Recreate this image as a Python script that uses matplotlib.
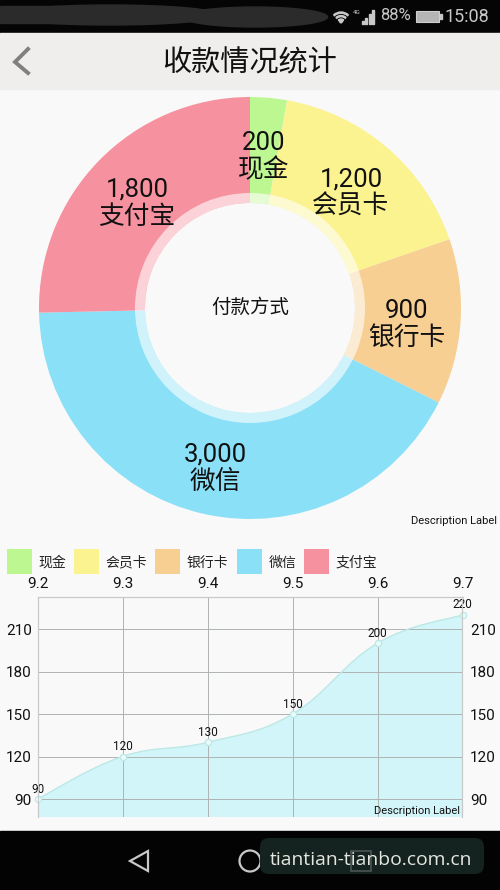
import matplotlib

matplotlib.use("Agg")
import matplotlib.pyplot as plt
from matplotlib.patches import Circle, PathPatch, Polygon, Rectangle, FancyBboxPatch, Wedge, Ellipse
from matplotlib.path import Path

plt.rcParams["font.family"] = ["Roboto", "Noto Sans CJK SC", "DejaVu Sans"]

# pie data
PAY_NAMES = ["现金", "会员卡", "银行卡", "微信", "支付宝"]
PAY_VALUES = [200, 1200, 900, 3000, 1800]
PAY_COLORS = ["#bdf792", "#fbf38f", "#f8cf92", "#8ae0f7", "#f6919f"]
CENTER_TEXT = "付款方式"

# line data
DATES = ["9.2", "9.3", "9.4", "9.5", "9.6", "9.7"]
AMOUNTS = [90, 120, 130, 150, 200, 220]
Y_TICKS = [90, 120, 150, 180, 210]

W, H = 500, 890
BG = "#f9f9f9"
TEXT = "#111111"


def px_axes(fig, x0, y0, x1, y1, **kw):
    """axes placed with pixel coords, y counted from the top"""
    return fig.add_axes([x0 / W, 1 - y1 / H, (x1 - x0) / W, (y1 - y0) / H], **kw)


def draw_chrome(ov):
    # status bar and navigation bar
    ov.add_patch(Rectangle((0, 0), 500, 33, color="#050505"))
    ov.add_patch(Rectangle((0, 33), 500, 56, color="#efeeec"))
    ov.add_patch(Rectangle((0, 831), 500, 59, color="#030303"))
    # scribbled out part of the status bar
    ov.add_patch(Ellipse((110, 15), 220, 20, color="#2b2b2b"))
    ov.add_patch(Ellipse((255, 17), 145, 20, color="#2b2b2b"))
    ov.add_patch(Rectangle((0, 6), 60, 17, color="#2b2b2b"))

    # wifi icon
    for r in (11, 7.5, 4):
        ov.add_patch(Wedge((341, 23), r, 228, 312, width=1.2, color="#c8c8c8"))
    ov.add_patch(Circle((341, 21.5), 1.3, color="#c8c8c8"))
    ov.text(357, 12.5, "4G", color="#c8c8c8", fontsize=4.5, ha="center", va="center")
    for i, top in enumerate((21, 18, 14, 10)):
        ov.add_patch(Rectangle((362 + i * 3.4, top), 2, 24 - top, color="#c8c8c8"))
    ov.text(380, 16, "88%", color="#c8c8c8", fontsize=12, ha="left", va="center")
    ov.add_patch(Rectangle((416, 11), 23, 11, fc="#b5b5b5", ec="#d0d0d0", lw=0.8))
    ov.add_patch(Rectangle((440, 14), 1.6, 5, color="#c8c8c8"))
    ov.text(489, 17, "15:08", color="#c8c8c8", fontsize=13, ha="right", va="center")

    # header
    ov.plot([28, 15, 28], [49, 62, 73], color="#808080", lw=2.8, solid_joinstyle="miter")
    ov.text(250, 63, "收款情况统计", color=TEXT, fontsize=21, ha="center", va="center")

    # nav buttons + watermark
    ov.add_patch(Polygon([(148, 851), (130, 861), (148, 871)], closed=True, fill=False,
                         ec="#c8c8c8", lw=1.6))
    ov.add_patch(Circle((250, 861), 10.5, fill=False, ec="#c8c8c8", lw=1.6))
    ov.add_patch(FancyBboxPatch((260, 838), 224, 36, boxstyle="round,pad=0,rounding_size=9",
                                fc="#14231f", ec="none"))
    ov.add_patch(Rectangle((351, 851), 20, 20, fill=False, ec="#4a5552", lw=1.2))
    ov.text(371, 860, "tiantian-tianbo.com.cn", color="#e6e6e0", fontsize=13.9,
            ha="center", va="center", family="Open Sans")


def draw_pie(ax):
    hole = 105 / 211
    ax.pie(PAY_VALUES, colors=PAY_COLORS, startangle=90, counterclock=False, radius=1,
           wedgeprops={"width": 1 - hole, "linewidth": 0})
    ax.add_patch(Wedge((0, 0), 115 / 211, 0, 360, width=10 / 211, fc="white", alpha=0.6, lw=0))
    ax.text(0, 0, CENTER_TEXT, fontsize=14, color=TEXT, ha="center", va="center")
    ax.set_xlim(-1, 1)
    ax.set_ylim(-1, 1)


def draw_slice_labels(ov):
    spots = [(264, 155), (351, 192), (407, 323), (215, 467), (137, 202)]
    for name, val, (x, y) in zip(PAY_NAMES, PAY_VALUES, spots):
        ov.text(x, y - 12.5, f"{val:,}", fontsize=18.5, color=TEXT, ha="center", va="center")
        ov.text(x, y + 15, name, fontsize=18.5, color=TEXT, ha="center", va="center")
    ov.text(497, 521, "Description Label", fontsize=8, color=TEXT, ha="right", va="center")


def draw_legend(ov):
    lefts = [7, 74, 155, 237, 304]
    for name, col, x in zip(PAY_NAMES, PAY_COLORS, lefts):
        ov.add_patch(Rectangle((x, 549), 25, 25, color=col, lw=0))
        ov.text(x + 31.5, 562.5, name, fontsize=10, color="#222222", ha="left", va="center")


def smooth_path(xs, ys, close_at=None):
    # cubic segments through the points, same look as the android chart lib
    n = len(xs)
    verts = [(xs[0], ys[0])]
    codes = [Path.MOVETO]
    k = 0.2
    for i in range(n - 1):
        prev = max(i - 1, 0)
        nxt = min(i + 2, n - 1)
        c1 = (xs[i] + k * (xs[i + 1] - xs[prev]), ys[i] + k * (ys[i + 1] - ys[prev]))
        c2 = (xs[i + 1] - k * (xs[nxt] - xs[i]), ys[i + 1] - k * (ys[nxt] - ys[i]))
        verts += [c1, c2, (xs[i + 1], ys[i + 1])]
        codes += [Path.CURVE4] * 3
    if close_at is not None:
        verts += [(xs[-1], close_at), (xs[0], close_at), (xs[0], ys[0])]
        codes += [Path.LINETO, Path.LINETO, Path.CLOSEPOLY]
    return Path(verts, codes)


def draw_line(ax):
    xs = list(range(len(DATES)))
    ax.set_facecolor(BG)
    ax.set_xlim(0, len(DATES) - 1)
    ax.set_ylim(77.3, 232.6)

    ax.add_patch(PathPatch(smooth_path(xs, AMOUNTS, close_at=77.3), fc="#d2f5fa", ec="none", zorder=1))
    ax.grid(True, color="#aeb2b3", lw=0.7, zorder=2)
    ax.set_axisbelow(False)
    ax.add_patch(PathPatch(smooth_path(xs, AMOUNTS), fc="none", ec="#bce8e6", lw=1.0, zorder=3))
    ax.plot(xs, AMOUNTS, ls="none", marker="o", ms=4.5, mfc="#e9fbfb", mec="#bce8e6", mew=0.9,
            zorder=4, clip_on=False)

    for x, v in zip(xs, AMOUNTS):
        ax.annotate(str(v), (x, v), xytext=(0, 2.5), textcoords="offset points", ha="center",
                    va="bottom", fontsize=8.5, color=TEXT, zorder=5, annotation_clip=False)

    ax.xaxis.tick_top()
    ax.set_xticks(xs, DATES)
    ax.set_yticks(Y_TICKS)
    ax.tick_params(axis="both", length=0, labelsize=11, labelcolor=TEXT, pad=4)
    ax.tick_params(axis="y", pad=4)
    right = ax.twinx()
    right.set_ylim(ax.get_ylim())
    right.set_yticks(Y_TICKS)
    right.tick_params(axis="y", length=0, labelsize=11, labelcolor=TEXT, pad=5.5)
    for a in (ax, right):
        for side, sp in a.spines.items():
            sp.set_color("#c8caca")
            sp.set_linewidth(0.8)
            sp.set_visible(side != "bottom")
    ax.text(0.995, 0.027, "Description Label", transform=ax.transAxes, fontsize=8, color=TEXT,
            ha="right", va="center", zorder=6)


fig = plt.figure(figsize=(5.0, 8.9), dpi=100, facecolor=BG)

pie_ax = px_axes(fig, 39, 97, 461, 519)
draw_pie(pie_ax)

line_ax = px_axes(fig, 37.5, 597, 462.5, 817)
draw_line(line_ax)

overlay = fig.add_axes([0, 0, 1, 1], zorder=10)
overlay.patch.set_alpha(0)
overlay.set_xlim(0, W)
overlay.set_ylim(H, 0)
overlay.axis("off")
draw_chrome(overlay)
draw_slice_labels(overlay)
draw_legend(overlay)

fig.savefig("out.png", dpi=100, facecolor=fig.get_facecolor())
plt.close(fig)
